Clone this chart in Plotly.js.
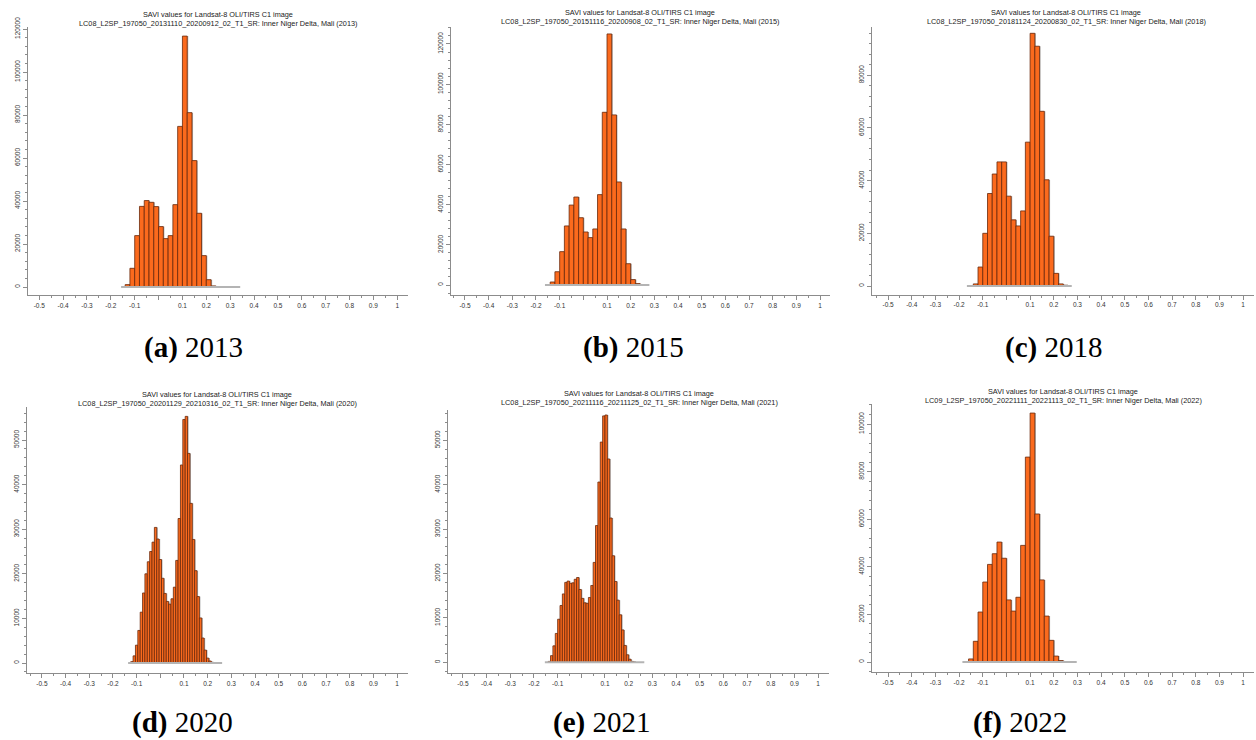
<!DOCTYPE html>
<html>
<head>
<meta charset="utf-8">
<script src="https://cdn.plot.ly/plotly-3.0.1.min.js"></script>
<style>
html,body{margin:0;padding:0;background:#fff;}
#chart{width:1256px;height:740px;}
</style>
</head>
<body>
<div id="chart"></div>
<script>
// ---------------- DATA ----------------
const years = ['2013', '2015', '2018', '2020', '2021', '2022'];
const letters = ['(a)', '(b)', '(c)', '(d)', '(e)', '(f)'];
const sceneIds = [
  'LC08_L2SP_197050_20131110_20200912_02_T1_SR',
  'LC08_L2SP_197050_20151116_20200908_02_T1_SR',
  'LC08_L2SP_197050_20181124_20200830_02_T1_SR',
  'LC08_L2SP_197050_20201129_20210316_02_T1_SR',
  'LC08_L2SP_197050_20211116_20211125_02_T1_SR',
  'LC09_L2SP_197050_20221111_20221113_02_T1_SR'
];
// histogram bin definitions (first bin edge, bin width)
const binStarts = [-0.14, -0.14, -0.14, -0.125, -0.14, -0.16];
const binWidths = [0.02, 0.02, 0.02, 0.01, 0.01, 0.02];
// observed min / max SAVI value of each scene
const dataMin = [-0.157, -0.162, -0.167, -0.136, -0.154, -0.186];
const dataMax = [0.342, 0.279, 0.276, 0.261, 0.266, 0.297];

const counts2013 = [1100, 8700, 23900, 37500, 40200, 39400, 37400, 28100, 22500, 23900, 38300, 74700, 116700, 81100, 58800, 34300, 14600, 3400, 500];
const counts2015 = [1500, 6600, 16600, 29400, 39800, 43800, 33500, 26400, 23600, 27900, 45000, 86000, 125000, 84700, 51300, 27900, 10600, 2700, 700];
const counts2018 = [800, 7200, 20000, 35100, 42500, 47100, 47100, 34100, 25100, 22800, 28500, 54600, 95900, 91000, 66300, 40300, 18900, 4800, 800, 300];
const counts2020 = [300, 1600, 4000, 7300, 11400, 15700, 20000, 22700, 25000, 27100, 30400, 27800, 23200, 19000, 15600, 13800, 13200, 14400, 17000, 23000, 32400, 44400, 54600, 55300, 47000, 35800, 27700, 20700, 14900, 10100, 5600, 2900, 1100, 450, 150];
const counts2021 = [200, 1500, 3700, 6500, 9700, 12800, 15400, 18000, 18300, 17800, 17900, 18700, 19100, 16400, 14400, 13400, 13300, 14600, 17300, 22500, 30800, 40600, 49600, 55500, 55700, 45800, 32500, 24000, 18200, 14000, 10700, 7300, 3800, 1700, 700, 200, 80];
const counts2022 = [1300, 8700, 21000, 33600, 41000, 45500, 50400, 43600, 26100, 21400, 27200, 49000, 86100, 104600, 62200, 34500, 19300, 9100, 2500, 600];
const allCounts = [counts2013, counts2015, counts2018, counts2020, counts2021, counts2022];

const xTickVals = [-0.5, -0.4, -0.3, -0.2, -0.1, 0, 0.1, 0.2, 0.3, 0.4, 0.5, 0.6, 0.7, 0.8, 0.9, 1];
const xTickText = ['-0.5', '-0.4', '-0.3', '-0.2', '-0.1', '', '0.1', '0.2', '0.3', '0.4', '0.5', '0.6', '0.7', '0.8', '0.9', '1'];
const yMajorStep = [20000, 20000, 20000, 10000, 10000, 20000];
const yMinorStep = [4000, 4000, 4000, 2000, 2000, 4000];

// ---------------- LAYOUT / STYLE ----------------
const W = 1256, H = 740;
// plot boxes in pixels: [left, right, top, bottom]
const boxes = [[28, 408, 27, 295], [451, 830, 27, 295], [872, 1254, 27, 294.5],
               [27, 408, 407, 673], [448, 829, 410, 672.7], [872, 1254, 404, 671.7]];
const xRanges = [[-0.547, 1.045], [-0.559, 1.042], [-0.568, 1.046], [-0.563, 1.046], [-0.563, 1.046], [-0.568, 1.046]];
const yRanges = [[-3721, 120930], [-4979, 128454], [-3226, 98292], [-2242, 57399], [-2342, 56824], [-4076, 108403]];
const titleX = [218, 640, 1066, 217, 639, 1063];
const titleY = [14, 12.7, 12, 394.3, 393.3, 391.7];
const capX = [193, 633, 1053, 182, 601, 1020];
const capY = [347, 347, 347, 722, 722, 722];

const BAR_FILL = '#fb6a1d';
const BAR_EDGE = '#6a2a0c';
const SHADOW = '#b4b4b4';
const AXIS = '#8c8c8c';
const SHADOW_DX = 0.0045;

const traces = [];
const layout = {
  width: W, height: H,
  margin: {l: 0, r: 0, t: 0, b: 0},
  paper_bgcolor: '#fff', plot_bgcolor: 'rgba(0,0,0,0)',
  showlegend: false,
  barmode: 'overlay',
  font: {family: 'Liberation Sans, Arial, sans-serif', color: '#333'},
  annotations: []
};

years.forEach((yr, k) => {
  const n = k + 1;
  const xa = 'x' + (n === 1 ? '' : n), ya = 'y' + (n === 1 ? '' : n);
  const counts = allCounts[k];
  const centers = counts.map((_, i) => binStarts[k] + (i + 0.5) * binWidths[k]);

  // gray baseline spanning the observed value range
  traces.push({type: 'scatter', mode: 'lines', x: [dataMin[k], dataMax[k]], y: [0, 0],
    line: {color: SHADOW, width: 2}, xaxis: xa, yaxis: ya, hoverinfo: 'skip'});
  // shadow of the bars
  traces.push({type: 'bar', x: centers, y: counts, width: binWidths[k],
    offset: -binWidths[k] / 2 + SHADOW_DX,
    marker: {color: SHADOW, line: {width: 0}}, xaxis: xa, yaxis: ya, hoverinfo: 'skip'});
  // bars
  traces.push({type: 'bar', x: centers, y: counts, width: binWidths[k],
    marker: {color: BAR_FILL, line: {color: BAR_EDGE, width: 0.8}},
    xaxis: xa, yaxis: ya, name: yr});

  const b = boxes[k];
  const xKey = 'xaxis' + (n === 1 ? '' : n), yKey = 'yaxis' + (n === 1 ? '' : n);
  layout[xKey] = {
    domain: [b[0] / W, b[1] / W], range: xRanges[k], anchor: ya,
    showline: true, linecolor: AXIS, linewidth: 1, mirror: false,
    showgrid: false, zeroline: false,
    tickmode: 'array', tickvals: xTickVals, ticktext: xTickText,
    ticks: 'outside', ticklen: 4, tickwidth: 1, tickcolor: AXIS,
    tickfont: {size: 6.5, color: '#333'},
    minor: {tickmode: 'linear', tick0: 0, dtick: 0.05, ticks: 'outside', ticklen: 2, tickcolor: AXIS, showgrid: false},
    fixedrange: true
  };
  layout[yKey] = {
    domain: [1 - b[3] / H, 1 - b[2] / H], range: yRanges[k], anchor: xa,
    showline: true, linecolor: AXIS, linewidth: 1,
    showgrid: false, zeroline: false,
    tickmode: 'linear', tick0: 0, dtick: yMajorStep[k], tickformat: 'd',
    ticks: 'outside', ticklen: 4, tickwidth: 1, tickcolor: AXIS,
    tickangle: -90,
    tickfont: {size: 6.5, color: '#333'},
    minor: {tickmode: 'linear', tick0: 0, dtick: yMinorStep[k], ticks: 'outside', ticklen: 2, tickcolor: AXIS, showgrid: false},
    fixedrange: true
  };

  layout.annotations.push({
    xref: 'paper', yref: 'paper', x: titleX[k] / W, y: 1 - titleY[k] / H,
    xanchor: 'center', yanchor: 'middle', showarrow: false,
    text: 'SAVI values for Landsat-8 OLI/TIRS C1 image',
    font: {size: 7.3, color: '#222', family: 'Liberation Sans, Arial, sans-serif'}
  });
  layout.annotations.push({
    xref: 'paper', yref: 'paper', x: titleX[k] / W, y: 1 - (titleY[k] + 9) / H,
    xanchor: 'center', yanchor: 'middle', showarrow: false,
    text: sceneIds[k] + ': Inner Niger Delta, Mali (' + yr + ')',
    font: {size: 7.3, color: '#222', family: 'Liberation Sans, Arial, sans-serif'}
  });
  layout.annotations.push({
    xref: 'paper', yref: 'paper', x: capX[k] / W, y: 1 - capY[k] / H,
    xanchor: 'center', yanchor: 'middle', showarrow: false,
    text: '<b>' + letters[k] + '</b> ' + yr,
    font: {size: 29, color: '#000', family: 'Liberation Serif, Times New Roman, serif'}
  });
});

Plotly.newPlot('chart', traces, layout, {displayModeBar: false, staticPlot: true});
</script>
</body>
</html>
